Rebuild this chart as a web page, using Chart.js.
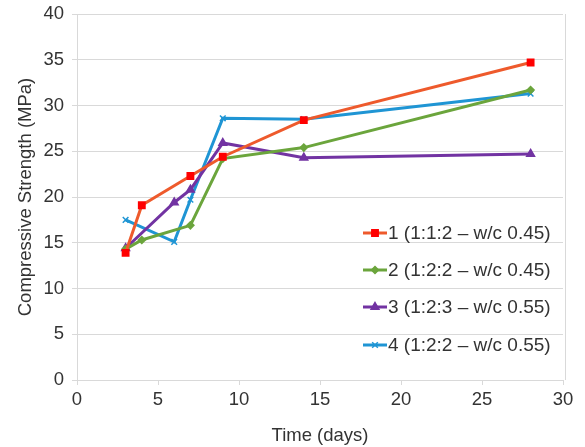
<!DOCTYPE html>
<html>
<head>
<meta charset="utf-8">
<script src="https://cdn.jsdelivr.net/npm/chart.js@4/dist/chart.umd.min.js"></script>
<style>
  html, body { margin: 0; padding: 0; background: #fff; }
  #wrap { width: 585px; height: 447px; }
</style>
</head>
<body>
<div id="wrap"><canvas id="strengthChart" width="585" height="447"></canvas></div>
<script>
// Data
const seriesNames = [
  "1 (1:1:2 \u2013 w/c 0.45)",
  "2 (1:2:2 \u2013 w/c 0.45)",
  "3 (1:2:3 \u2013 w/c 0.55)",
  "4 (1:2:2 \u2013 w/c 0.55)",
];
const days1 = [3, 4, 7, 9, 14, 28];
const strength1 = [13.9, 19.1, 22.3, 24.4, 28.4, 34.7];
const days2 = [3, 4, 7, 9, 14, 28];
const strength2 = [14.3, 15.3, 16.9, 24.2, 25.4, 31.7];
const days3 = [3, 6, 7, 9, 14, 28];
const strength3 = [14.4, 19.4, 20.8, 25.9, 24.3, 24.7];
const days4 = [3, 6, 7, 9, 14, 28];
const strength4 = [17.5, 15.1, 19.7, 28.6, 28.5, 31.3];

const xTicks = [0, 5, 10, 15, 20, 25, 30];
const yTicks = [0, 5, 10, 15, 20, 25, 30, 35, 40];

const lineColors = ["#EE5A2C", "#6BA53C", "#7233A2", "#1F95D4"];
const markerColors = ["#FF0000", "#6BA53C", "#7233A2", "#1F95D4"];
const markerStyles = ["rect", "rectRot", "triangle", "crossRot"];
const markerSizes = [4.5, 3.5, 4.5, 4];

const FONT = "'Liberation Sans', Arial, sans-serif";
const textColor = "#333333";
const gridColor = "#D9D9D9";

function toPoints(days, values) {
  return days.map((d, i) => ({ x: d, y: values[i] }));
}

const allDays = [days1, days2, days3, days4];
const allStrength = [strength1, strength2, strength3, strength4];

const datasets = seriesNames.map((name, i) => ({
  label: name,
  data: toPoints(allDays[i], allStrength[i]),
  borderColor: lineColors[i],
  backgroundColor: markerColors[i],
  borderWidth: 3,
  pointStyle: markerStyles[i],
  pointRadius: markerSizes[i],
  pointBorderColor: markerColors[i],
  pointBackgroundColor: markerColors[i],
  pointBorderWidth: 1.5,
  tension: 0,
}));

// Legend inside the plot, like the original
const insideLegend = {
  id: "insideLegend",
  afterDatasetsDraw(chart) {
    const ctx = chart.ctx;
    const rows = [233, 270, 307, 345];
    ctx.save();
    ctx.font = "19px " + FONT;
    ctx.textBaseline = "middle";
    ctx.fillStyle = textColor;
    chart.data.datasets.forEach((ds, i) => {
      const y = rows[i];
      ctx.strokeStyle = ds.borderColor;
      ctx.lineWidth = 3;
      ctx.beginPath();
      ctx.moveTo(363, y);
      ctx.lineTo(387, y);
      ctx.stroke();
      if (Chart.helpers && Chart.helpers.drawPoint) {
        ctx.fillStyle = ds.pointBackgroundColor;
        ctx.strokeStyle = ds.pointBorderColor;
        ctx.lineWidth = ds.pointBorderWidth;
        Chart.helpers.drawPoint(ctx, {
          pointStyle: ds.pointStyle,
          radius: ds.pointRadius,
          rotation: 0,
          borderWidth: ds.pointBorderWidth,
        }, 375, y);
      }
      ctx.fillStyle = textColor;
      ctx.fillText(ds.label, 388, y + 1);
    });
    ctx.restore();
  },
};

// Right edge of the plot area
const plotBorder = {
  id: "plotBorder",
  beforeDatasetsDraw(chart) {
    const { ctx, chartArea } = chart;
    ctx.save();
    ctx.strokeStyle = gridColor;
    ctx.lineWidth = 1;
    ctx.beginPath();
    ctx.moveTo(chartArea.right + 2.5, chartArea.top);
    ctx.lineTo(chartArea.right + 2.5, chartArea.bottom);
    ctx.stroke();
    ctx.restore();
  },
};

new Chart(document.getElementById("strengthChart"), {
  type: "line",
  data: { datasets: datasets },
  options: {
    responsive: false,
    animation: false,
    layout: { padding: { left: 4, right: 22, top: 14, bottom: 0 } },
    plugins: {
      legend: { display: false },
      tooltip: { enabled: false },
    },
    scales: {
      x: {
        type: "linear",
        min: 0,
        max: 30,
        afterBuildTicks(scale) {
          scale.ticks = xTicks.map((v) => ({ value: v }));
        },
        afterFit(scale) {
          scale.height = 67;
        },
        grid: {
          drawOnChartArea: false,
          drawTicks: true,
          tickLength: 5,
          color: gridColor,
        },
        border: { color: gridColor },
        ticks: {
          color: textColor,
          font: { family: FONT, size: 18.5 },
          padding: 4,
        },
        title: {
          display: true,
          text: "Time (days)",
          color: textColor,
          font: { family: FONT, size: 18.5 },
          padding: { top: 5, bottom: 0 },
        },
      },
      y: {
        type: "linear",
        min: 0,
        max: 40,
        afterBuildTicks(scale) {
          scale.ticks = yTicks.map((v) => ({ value: v }));
        },
        afterFit(scale) {
          scale.width = 73;
          scale.paddingTop = 0;
        },
        grid: {
          color: gridColor,
          tickLength: 5,
        },
        border: { color: gridColor },
        ticks: {
          color: textColor,
          font: { family: FONT, size: 18.5 },
          padding: 8,
        },
        title: {
          display: true,
          text: "Compressive Strength (MPa)",
          color: textColor,
          font: { family: FONT, size: 18.5 },
          padding: { top: 11, bottom: 0 },
        },
      },
    },
  },
  plugins: [plotBorder, insideLegend],
});
</script>
</body>
</html>
